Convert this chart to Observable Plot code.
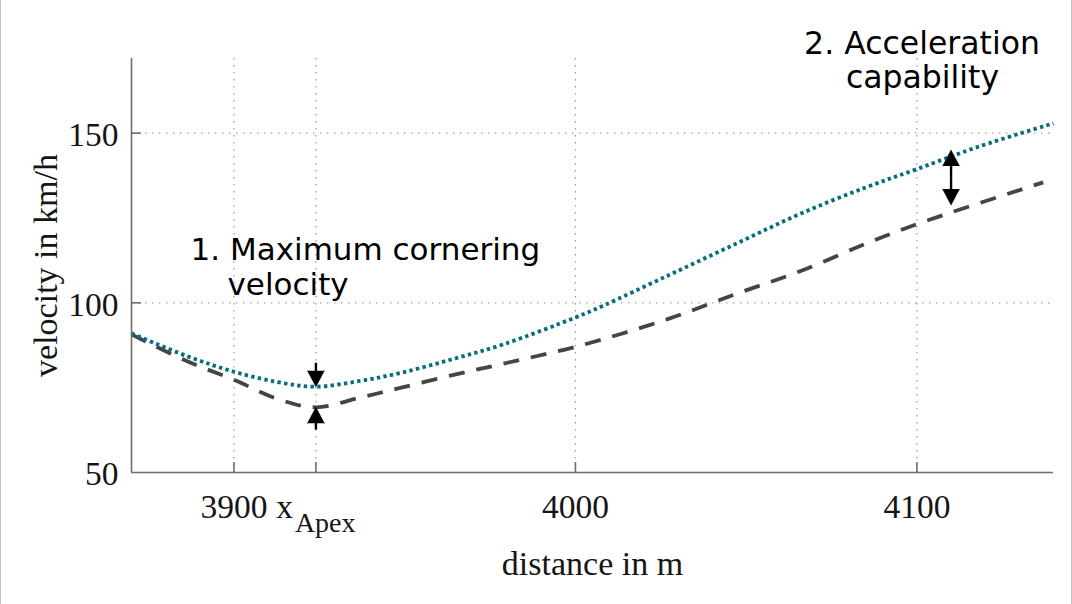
<!DOCTYPE html>
<html>
<head>
<meta charset="utf-8">
<script src="https://cdn.jsdelivr.net/npm/d3@7"></script>
<script src="https://cdn.jsdelivr.net/npm/@observablehq/plot@0.6"></script>
<style>
  html, body { margin: 0; padding: 0; background: #fff; }
  #chart { position: relative; width: 1072px; height: 604px; overflow: hidden; }
  #chart::before, #chart::after {
    content: ""; position: absolute; top: 0; bottom: 0; width: 1px; background: #c4c4c4;
  }
  #chart::before { left: 0; }
  #chart::after { right: 0; }
  #chart svg { display: block; }
</style>
</head>
<body>
<div id="chart"></div>
<script>
// Velocity profile along the track: maximum possible (teal, dotted) vs. reference (grey, dashed)
const distanceMax = [3870, 3886, 3900, 3913, 3924, 3937, 3949, 3964, 3979, 4000, 4008, 4027, 4047, 4066, 4085, 4100, 4118, 4140];
const velocityMax = [91.0, 84.4, 79.7, 76.6, 75.3, 77.0, 79.4, 83.4, 87.8, 95.7, 99.1, 108.0, 117.4, 126.3, 134.0, 139.4, 146.0, 152.9];

const distanceRef = [3870, 3886, 3900, 3913, 3924, 3937, 3949, 3964, 3979, 4001, 4027, 4047, 4066, 4085, 4100, 4137];
const velocityRef = [90.7, 82.9, 77.3, 71.6, 69.2, 72.1, 75.0, 78.7, 82.1, 87.3, 95.2, 102.6, 109.4, 117.4, 123.2, 135.5];

// Axis ticks; the apex position carries a subscripted label
const xTicks = [3900, 3924, 4000, 4100];
const xTickLabels = ["3900", "x", "4000", "4100"];
const xTickSubscripts = ["", "Apex", "", ""];
const yTicks = [50, 100, 150];
const yGrid = [100, 150];

// Arrows marking the two velocity differences (head at "to")
const arrowX = [3924, 3924, 4110, 4110];
const arrowFrom = [82.2, 62.5, 136.9, 136.9];
const arrowTo = [75.3, 69.2, 145.0, 128.8];

const xDomain = [3870, 4140];
const yDomain = [50, 172];

const W = 1072, H = 604;
const M = {top: 58, right: 19, bottom: 132, left: 131};
const pxPerY = (H - M.top - M.bottom) / (yDomain[1] - yDomain[0]);
const pxPerX = (W - M.left - M.right) / (xDomain[1] - xDomain[0]);

const maxRows = distanceMax.map((d, i) => ({d, v: velocityMax[i]}));
const refRows = distanceRef.map((d, i) => ({d, v: velocityRef[i]}));
const tickRows = xTicks.map((t, i) => ({t, label: xTickLabels[i], sub: xTickSubscripts[i]}));
const arrowRows = arrowX.map((x, i) => ({x, from: arrowFrom[i], to: arrowTo[i]}));

const serif = "'Liberation Serif', 'Times New Roman', serif";
const sans = "'DejaVu Sans', Verdana, sans-serif";
const tickLen = 10;
const gridStyle = {stroke: "#9a9a9a", strokeWidth: 1.2, strokeDasharray: "1.4,5.6"};
const axisStyle = {stroke: "#6e6e6e", strokeWidth: 1.6};

const chart = Plot.plot({
  width: W,
  height: H,
  marginTop: M.top,
  marginRight: M.right,
  marginBottom: M.bottom,
  marginLeft: M.left,
  x: {domain: xDomain, axis: null},
  y: {domain: yDomain, axis: null},
  style: {background: "#fff", overflow: "visible"},
  marks: [
    // dotted grid
    Plot.ruleX(xTicks, {x: d => d, ...gridStyle}),
    Plot.ruleY(yGrid, {y: d => d, ...gridStyle}),

    // velocity curves
    Plot.line(refRows, {
      x: "d", y: "v", curve: "catmull-rom",
      stroke: "#454545", strokeWidth: 3.8, strokeDasharray: "16,12", strokeLinecap: "butt"
    }),
    Plot.line(maxRows, {
      x: "d", y: "v", curve: "catmull-rom",
      stroke: "#036e80", strokeWidth: 3.8, strokeDasharray: "3.4,3.3", strokeLinecap: "butt"
    }),

    // axis lines
    Plot.ruleX([xDomain[0]], {x: d => d, ...axisStyle}),
    Plot.ruleY([yDomain[0]], {y: d => d, ...axisStyle}),

    // inward ticks
    Plot.ruleX(xTicks, {x: d => d, y1: yDomain[0], y2: yDomain[0] + tickLen / pxPerY, ...axisStyle}),
    Plot.ruleY(yGrid, {y: d => d, x1: xDomain[0], x2: xDomain[0] + tickLen / pxPerX, ...axisStyle}),

    // x tick labels
    Plot.text(tickRows.filter(r => !r.sub), {
      x: "t", text: "label", frameAnchor: "bottom", dy: 45, lineAnchor: "bottom", textAnchor: "middle",
      fontFamily: serif, fontSize: 33.5, fill: "#151515"
    }),
    Plot.text(tickRows.filter(r => r.sub), {
      x: "t", text: "label", frameAnchor: "bottom", dx: -23, dy: 45, lineAnchor: "bottom", textAnchor: "end",
      fontFamily: serif, fontSize: 33.5, fill: "#151515"
    }),
    Plot.text(tickRows.filter(r => r.sub), {
      x: "t", text: "sub", frameAnchor: "bottom", dx: -21, dy: 59.5, lineAnchor: "bottom", textAnchor: "start",
      fontFamily: serif, fontSize: 28, fill: "#151515"
    }),

    // y tick labels
    Plot.text(yTicks, {
      y: d => d, text: d => String(d), frameAnchor: "left", dx: -13, dy: 2, textAnchor: "end", lineAnchor: "middle",
      fontFamily: serif, fontSize: 33.5, fill: "#151515"
    }),

    // axis titles
    Plot.text(["distance in m"], {
      frameAnchor: "bottom", dy: 102, lineAnchor: "bottom", textAnchor: "middle",
      fontFamily: serif, fontSize: 34, fill: "#151515"
    }),
    Plot.text(["velocity in km/h"], {
      frameAnchor: "left", dx: -75, rotate: -90, lineAnchor: "bottom", textAnchor: "middle",
      fontFamily: serif, fontSize: 34, fill: "#151515"
    }),

    // arrows
    Plot.ruleX(arrowRows, {
      x: "x", y1: "from", y2: d => d.to - Math.sign(d.to - d.from) * 9 / pxPerY,
      stroke: "#000", strokeWidth: 2.4
    }),
    Plot.vector(arrowRows, {
      x: "x", y: "to", length: 16, r: 8.5, shape: "spike", anchor: "end",
      rotate: d => (d.to > d.from ? 0 : 180),
      fill: "#000", fillOpacity: 1, stroke: "#000", strokeWidth: 0.5
    }),

    // annotations
    Plot.text(["1. Maximum cornering"], {
      frameAnchor: "top-left", dx: 59, dy: 201, textAnchor: "start", lineAnchor: "bottom",
      fontFamily: sans, fontSize: 31, fill: "#000"
    }),
    Plot.text(["velocity"], {
      frameAnchor: "top-left", dx: 96, dy: 236, textAnchor: "start", lineAnchor: "bottom",
      fontFamily: sans, fontSize: 31, fill: "#000"
    }),
    Plot.text(["2. Acceleration"], {
      frameAnchor: "top-right", dx: -131.5, dy: -5, textAnchor: "middle", lineAnchor: "bottom",
      fontFamily: sans, fontSize: 31.5, fill: "#000"
    }),
    Plot.text(["capability"], {
      frameAnchor: "top-right", dx: -131, dy: 29, textAnchor: "middle", lineAnchor: "bottom",
      fontFamily: sans, fontSize: 31.5, fill: "#000"
    })
  ]
});

document.getElementById("chart").appendChild(chart);
</script>
</body>
</html>
